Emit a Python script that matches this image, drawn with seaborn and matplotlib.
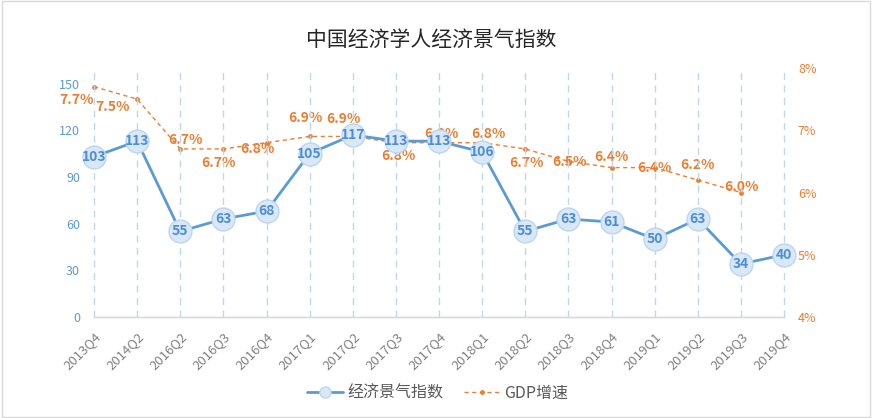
import matplotlib
matplotlib.use("Agg")
import matplotlib.pyplot as plt
import seaborn as sns
import pandas as pd
from matplotlib.lines import Line2D
from matplotlib.patches import Rectangle

quarters = ["2013Q4", "2014Q2", "2016Q2", "2016Q3", "2016Q4", "2017Q1", "2017Q2",
            "2017Q3", "2017Q4", "2018Q1", "2018Q2", "2018Q3", "2018Q4", "2019Q1",
            "2019Q2", "2019Q3", "2019Q4"]
index_values = [103, 113, 55, 63, 68, 105, 117, 113, 113, 106, 55, 63, 61, 50, 63, 34, 40]
gdp_values = [7.7, 7.5, 6.7, 6.7, 6.8, 6.9, 6.9, 6.8, 6.8, 6.8, 6.7, 6.5, 6.4, 6.4, 6.2, 6.0]
left_ticks = [0, 30, 60, 90, 120, 150]
right_ticks = [4, 5, 6, 7, 8]

# label offsets (pixels) for GDP labels - styling only
gdp_label_offsets = [(-18, -13), (-25, -8), (5, 9), (-5, -14), (-9, -6), (-4, 18), (-9, 17),
                     (3, -13), (2, 9), (6, 9), (1, -14), (1, -1), (0, 11), (0, 0), (0, 15), (1, 6)]

sns.set_style("white")
plt.rcParams['font.family'] = ['Noto Sans CJK SC', 'DejaVu Sans']

BLUE = "#5b9bd5"
BLUE_TXT = "#4a8fd6"
FILL = "#d9e7f6"
EDGE = "#bcd6ef"
ORANGE = "#ed7d31"
GRID = "#bdd7ee"

df_idx = pd.DataFrame({"x": range(len(quarters)), "v": index_values})
df_gdp = pd.DataFrame({"x": range(len(gdp_values)), "v": gdp_values})

fig = plt.figure(figsize=(8.72, 4.18), dpi=100)
ax = fig.add_axes([94/872, 1-317/418, (784-94)/872, (317-68)/418])
ax2 = ax.twinx()

# vertical dashed gridlines
for i in range(len(quarters)):
    ax.axvline(i, color=GRID, lw=1, ls=(0, (5, 4)), zorder=0)

sns.lineplot(data=df_gdp, x="x", y="v", ax=ax2, color=ORANGE, lw=1,
             linestyle=(0, (3, 2.5)), marker="o", markersize=3.5, markeredgewidth=0, zorder=2)
sns.lineplot(data=df_idx, x="x", y="v", ax=ax, color=BLUE, lw=2,
             marker="o", markersize=16.5, markerfacecolor=FILL, markeredgecolor=EDGE,
             markeredgewidth=1, zorder=3)
for ln in ax.get_lines() + ax2.get_lines():
    ln.set_clip_on(False)

ax.set_zorder(ax2.get_zorder() + 1)
ax.patch.set_visible(False)

for i, v in enumerate(index_values):
    ax.text(i, v, str(v), ha="center", va="center", color=BLUE_TXT,
            fontsize=10, fontweight="bold", zorder=5, clip_on=False)

for i, v in enumerate(gdp_values):
    dx, dy = gdp_label_offsets[i]
    ax2.annotate(f"{v:.1f}%", (i, v), xytext=(dx, dy), textcoords="offset pixels",
                 ha="center", va="center", color=ORANGE, fontsize=10, fontweight="bold")

ax.set_xlim(0, len(quarters) - 1)
ax.set_ylim(0, 160)
ax2.set_ylim(4, 8)
ax.set_yticks(left_ticks)
ax2.set_yticks(right_ticks)
ax2.set_yticklabels([f"{t}%" for t in right_ticks])
ax.set_xticks(range(len(quarters)))
ax.set_xticklabels(quarters, rotation=45, ha="right", rotation_mode="anchor")
ax.set_xlabel("")
ax.set_ylabel("")
ax2.set_ylabel("")

ax.tick_params(axis="x", length=0, pad=9, labelsize=9.5, labelcolor="#808080")
ax.tick_params(axis="y", length=0, pad=10, labelsize=9, labelcolor=BLUE)
ax2.tick_params(axis="y", length=0, pad=10, labelsize=9, labelcolor=ORANGE)

for a in (ax, ax2):
    for s in ("top", "left", "right"):
        a.spines[s].set_visible(False)
    a.spines["bottom"].set_color("#d9d9d9")
    a.spines["bottom"].set_linewidth(1)

fig.text(0.495, 1-40/418, "中国经济学人经济景气指数", ha="center", va="center",
         fontsize=15, color="#262626")

handles = [
    Line2D([0], [0], color=BLUE, lw=2, marker="o", markersize=8,
           markerfacecolor=FILL, markeredgecolor=EDGE),
    Line2D([0], [0], color=ORANGE, lw=1, linestyle=(0, (3, 2.5)), marker="o", markersize=3.5,
           markeredgewidth=0),
]
fig.legend(handles, ["经济景气指数", "GDP增速"], loc="center", bbox_to_anchor=(0.502, 1-393/418),
           ncol=2, frameon=False, fontsize=11.5, labelcolor="#595959", handlelength=2.2,
           columnspacing=1.3, handletextpad=0.3)

fig.patches.append(Rectangle((0.002, 0.003), 0.996, 0.994, transform=fig.transFigure,
                             fill=False, edgecolor="#d9d9d9", lw=1))

fig.savefig("out.png", dpi=100)
